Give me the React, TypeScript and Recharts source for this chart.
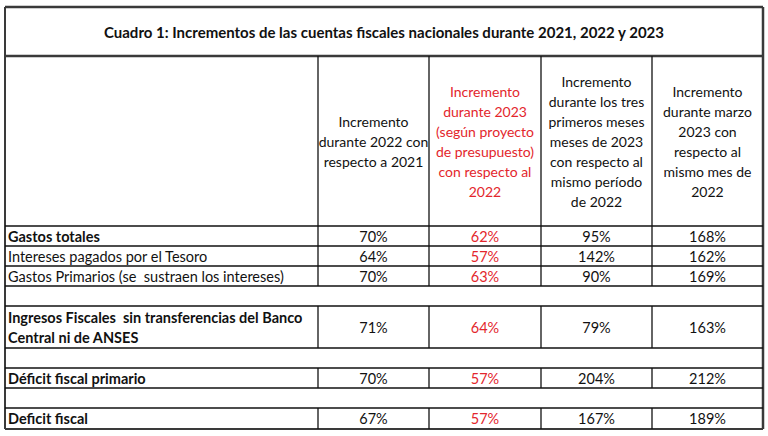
import { ComposedChart, Scatter, XAxis, YAxis, ReferenceLine } from "recharts";

const title = "Cuadro 1: Incrementos de las cuentas fiscales nacionales durante 2021, 2022 y 2023";

const columnHeaders = [
  ["Incremento", "durante 2022 con", "respecto a 2021"],
  ["Incremento", "durante 2023", "(según proyecto", "de presupuesto)", "con respecto al", "2022"],
  ["Incremento", "durante los tres", "primeros meses", "meses de 2023", "con respecto al", "mismo período", "de 2022"],
  ["Incremento", "durante marzo", "2023 con", "respecto al", "mismo mes de", "2022"],
];

const rowLabels = [
  ["Gastos totales"],
  ["Intereses pagados por el Tesoro"],
  ["Gastos Primarios (se  sustraen los intereses)"],
  ["Ingresos Fiscales  sin transferencias del Banco", "Central ni de ANSES"],
  ["Déficit fiscal primario"],
  ["Deficit fiscal"],
];

const inc2022 = [70, 64, 70, 71, 70, 67];
const inc2023Budget = [62, 57, 63, 64, 57, 57];
const incQ1 = [95, 142, 90, 79, 204, 167];
const incMarch = [168, 162, 169, 163, 212, 189];

// layout (px)
const W = 768;
const H = 436;
const L = 5;
const R = 763;
const T = 7;
const B = 429;
const titleBottom = 56;
const headBottom = 226;
const colEdges = [318, 429, 541, 652, 763];
const rowBands = [
  [226, 246],
  [246, 266],
  [266, 286],
  [306, 348],
  [368, 388],
  [408, 429],
];
const hLines = [246, 266, 286, 306, 348, 368, 388, 408];
const dividerSpans = [
  [56, 286],
  [306, 348],
  [368, 388],
  [408, 429],
];
const boldRows = [true, false, false, true, true, true];
const RED = "#e3262c";
const colColors = ["#111", RED, "#111", "#111"];
const FONT = "Lato, 'Open Sans', sans-serif";

type Cell = { x: number; y: number; text: string; fill: string; bold: boolean; anchor: string; size: number };

const cells: Cell[] = [];
cells.push({ x: (L + R) / 2, y: (T + titleBottom) / 2, text: title, fill: "#111", bold: true, anchor: "middle", size: 15 });

columnHeaders.forEach((lines, c) => {
  const cx = (colEdges[c] + colEdges[c + 1]) / 2;
  const mid = (titleBottom + headBottom) / 2;
  lines.forEach((t, i) => {
    cells.push({ x: cx, y: mid + (i - (lines.length - 1) / 2) * 20, text: t, fill: colColors[c], bold: false, anchor: "middle", size: 14 });
  });
});

const series = [inc2022, inc2023Budget, incQ1, incMarch];
rowLabels.forEach((lines, r) => {
  const [y0, y1] = rowBands[r];
  const mid = (y0 + y1) / 2;
  lines.forEach((t, i) => {
    cells.push({ x: L + 3, y: mid + (i - (lines.length - 1) / 2) * 20, text: t, fill: "#111", bold: boldRows[r], anchor: "start", size: 14.5 });
  });
  series.forEach((vals, c) => {
    cells.push({ x: (colEdges[c] + colEdges[c + 1]) / 2, y: mid, text: `${vals[r]}%`, fill: colColors[c], bold: false, anchor: "middle", size: 14.5 });
  });
});

const TextMark = (props: any) => {
  const { cx, cy, payload } = props;
  return (
    <text
      x={cx}
      y={cy}
      textAnchor={payload.anchor}
      dominantBaseline="central"
      fill={payload.fill}
      fontFamily={FONT}
      fontSize={payload.size}
      fontWeight={payload.bold ? 700 : 400}
      style={{ whiteSpace: "pre" }}
    >
      {payload.text}
    </text>
  );
};

export default function App() {
  const outer = "#3a3a3a";
  const inner = "#111";
  return (
    <div style={{ position: "absolute", left: 0, top: 0, width: W, height: H, background: "#fff" }}>
      <ComposedChart width={W} height={H} margin={{ top: 0, right: 0, bottom: 0, left: 0 }}>
        <XAxis type="number" dataKey="x" domain={[0, W]} hide />
        <YAxis type="number" dataKey="y" domain={[0, H]} reversed hide width={0} />
        {/* outer box */}
        <ReferenceLine segment={[{ x: L, y: T }, { x: R, y: T }]} stroke={outer} strokeWidth={2.5} />
        <ReferenceLine segment={[{ x: L, y: B }, { x: R, y: B }]} stroke={outer} strokeWidth={2} />
        <ReferenceLine segment={[{ x: L, y: T }, { x: L, y: B }]} stroke={outer} strokeWidth={2} />
        <ReferenceLine segment={[{ x: R, y: T }, { x: R, y: B }]} stroke={outer} strokeWidth={2.5} />
        <ReferenceLine segment={[{ x: L, y: titleBottom }, { x: R, y: titleBottom }]} stroke={outer} strokeWidth={2.5} />
        <ReferenceLine segment={[{ x: L, y: headBottom }, { x: R, y: headBottom }]} stroke={inner} strokeWidth={1.5} />
        {hLines.map((y) => (
          <ReferenceLine key={`h${y}`} segment={[{ x: L, y }, { x: R, y }]} stroke={inner} strokeWidth={1.3} />
        ))}
        {colEdges.slice(0, 4).map((x) =>
          dividerSpans.map(([y0, y1]) => (
            <ReferenceLine key={`v${x}-${y0}`} segment={[{ x, y: y0 }, { x, y: y1 }]} stroke={inner} strokeWidth={1.3} />
          ))
        )}
        <Scatter data={cells} dataKey="y" shape={TextMark} isAnimationActive={false} />
      </ComposedChart>
    </div>
  );
}
